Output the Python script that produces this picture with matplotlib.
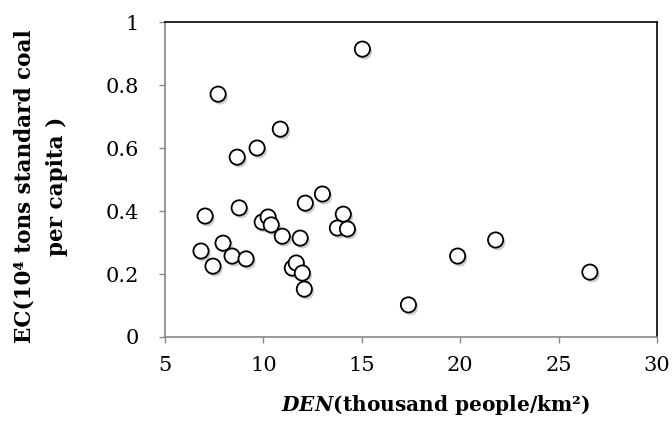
import matplotlib.pyplot as plt
import matplotlib.patheffects as pe

plt.rcParams['font.family'] = 'DejaVu Serif'
plt.rcParams['mathtext.fontset'] = 'dejavuserif'

# population density (thousand people/km2) and energy consumption per capita
den = [15.03, 7.70, 10.86, 9.68, 8.67,
       7.04, 8.77, 9.94, 10.24, 10.40, 10.96, 11.87, 12.13, 13.00, 14.06,
       13.76, 14.27, 6.83, 7.44, 7.95, 8.41, 9.12, 11.47, 11.67, 11.98,
       12.08, 17.37, 19.87, 21.80, 26.59]
ec = [0.914, 0.771, 0.660, 0.600, 0.571,
      0.384, 0.410, 0.365, 0.381, 0.356, 0.320, 0.314, 0.425, 0.454, 0.390,
      0.346, 0.343, 0.273, 0.225, 0.298, 0.257, 0.248, 0.219, 0.235, 0.203,
      0.152, 0.102, 0.257, 0.308, 0.206]

xticks = [5, 10, 15, 20, 25, 30]
yticks = [0, 0.2, 0.4, 0.6, 0.8, 1]
ytick_labels = ['0', '0.2', '0.4', '0.6', '0.8', '1']

fig = plt.figure(figsize=(6.72, 4.24), dpi=100)
ax = fig.add_axes([0.2455, 0.2052, 0.7322, 0.7428])

ax.scatter(den, ec, s=120, facecolor='white', edgecolor='black', linewidth=1.3,
           zorder=3,
           path_effects=[pe.SimplePatchShadow(offset=(1.5, -2), shadow_rgbFace='gray', alpha=0.4),
                         pe.Normal()])

ax.set_xlim(5, 30)
ax.set_ylim(0, 1)
ax.set_xticks(xticks)
ax.set_yticks(yticks)
ax.set_yticklabels(ytick_labels)
ax.tick_params(direction='out', length=4, width=1, color='#888888', labelsize=15)
ax.tick_params(axis='y', pad=15)
ax.tick_params(axis='x', pad=10)

for side in ['left', 'bottom']:
    ax.spines[side].set_color('#888888')
    ax.spines[side].set_linewidth(1.2)
for side in ['top', 'right']:
    ax.spines[side].set_color('black')
    ax.spines[side].set_linewidth(1.2)

ax.set_xlabel(r'$\mathbfit{DEN}$(thousand people/km²)', fontsize=14.5, fontweight='bold')
ax.xaxis.set_label_coords(0.549, -0.178)
ax.set_ylabel('EC(10⁴ tons standard coal\nper capita )', fontsize=15.5, fontweight='bold',
              linespacing=1.6)
ax.yaxis.set_label_coords(-0.197, 0.479)

fig.savefig('out.png', dpi=100)
